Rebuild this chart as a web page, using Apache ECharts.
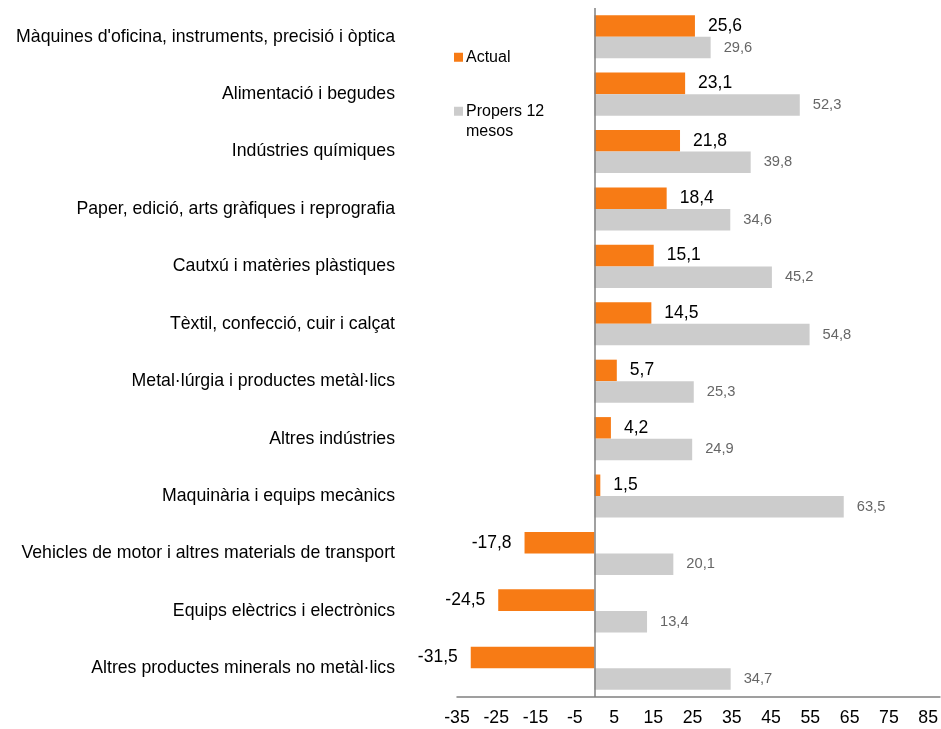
<!DOCTYPE html>
<html>
<head>
<meta charset="utf-8">
<style>
  html, body { margin: 0; padding: 0; background: #fff; }
  #chart { width: 941px; height: 729px; }
</style>
<script src="https://cdn.jsdelivr.net/npm/echarts@6/dist/echarts.min.js"></script>
</head>
<body>
<div id="chart"></div>
<script>
const categories = [
  "Màquines d'oficina, instruments, precisió i òptica",
  "Alimentació i begudes",
  "Indústries químiques",
  "Paper, edició, arts gràfiques i reprografia",
  "Cautxú i matèries plàstiques",
  "Tèxtil, confecció, cuir i calçat",
  "Metal·lúrgia i productes metàl·lics",
  "Altres indústries",
  "Maquinària i equips mecànics",
  "Vehicles de motor i altres materials de transport",
  "Equips elèctrics i electrònics",
  "Altres productes minerals no metàl·lics"
];
const actual = [25.6, 23.1, 21.8, 18.4, 15.1, 14.5, 5.7, 4.2, 1.5, -17.8, -24.5, -31.5];
const propers = [29.6, 52.3, 39.8, 34.6, 45.2, 54.8, 25.3, 24.9, 63.5, 20.1, 13.4, 34.7];

const font = "'Liberation Sans', Arial, sans-serif";
// coma decimal
const fmt = (p) => p.value.toFixed(1).replace(".", ",");

const chart = echarts.init(document.getElementById("chart"));
chart.setOption({
  animation: false,
  textStyle: { fontFamily: font },
  grid: { left: 457, right: 1, top: 8, bottom: 32 },
  legend: {
    orient: "vertical",
    left: 454,
    top: 47,
    padding: 0,
    itemWidth: 9,
    itemHeight: 9,
    itemGap: 13,
    icon: "rect",
    // línia buida al davant perquè la primera línia quedi alineada amb el quadrat
    formatter: (name) => (name === "Propers 12 mesos" ? "\nPropers 12\nmesos" : name),
    textStyle: { fontSize: 16, color: "#000", fontFamily: font, lineHeight: 20.5, padding: [0, 0, 0, -2] },
    data: ["Actual", "Propers 12 mesos"]
  },
  xAxis: {
    type: "value",
    min: -35,
    max: 88,
    interval: 10,
    splitLine: { show: false },
    axisTick: { show: false },
    axisLine: { show: true, onZero: false, lineStyle: { color: "#808080", width: 1.5 } },
    axisLabel: { color: "#000", fontSize: 17.7, margin: 12, showMaxLabel: false, fontFamily: font }
  },
  yAxis: {
    type: "category",
    inverse: true,
    data: categories,
    axisLine: { show: false, onZero: false },
    axisTick: { show: false },
    axisLabel: { color: "#000", fontSize: 17.7, margin: 62, fontFamily: font }
  },
  series: [
    {
      name: "Actual",
      type: "bar",
      barGap: "0%",
      barCategoryGap: "25%",
      itemStyle: { color: "#F77B15" },
      data: actual.map((v) => ({ value: v, label: { position: v < 0 ? "left" : "right" } })),
      label: { show: true, formatter: fmt, color: "#000", fontSize: 17.5, distance: 13, fontFamily: font },
      markLine: {
        silent: true,
        symbol: "none",
        label: { show: false },
        lineStyle: { color: "#808080", width: 1.5, type: "solid" },
        data: [{ xAxis: 0 }]
      }
    },
    {
      name: "Propers 12 mesos",
      type: "bar",
      barGap: "0%",
      barCategoryGap: "25%",
      itemStyle: { color: "#CCCCCC" },
      data: propers,
      label: { show: true, position: "right", formatter: fmt, color: "#666", fontSize: 14.7, distance: 13, fontFamily: font }
    }
  ]
});
</script>
</body>
</html>
